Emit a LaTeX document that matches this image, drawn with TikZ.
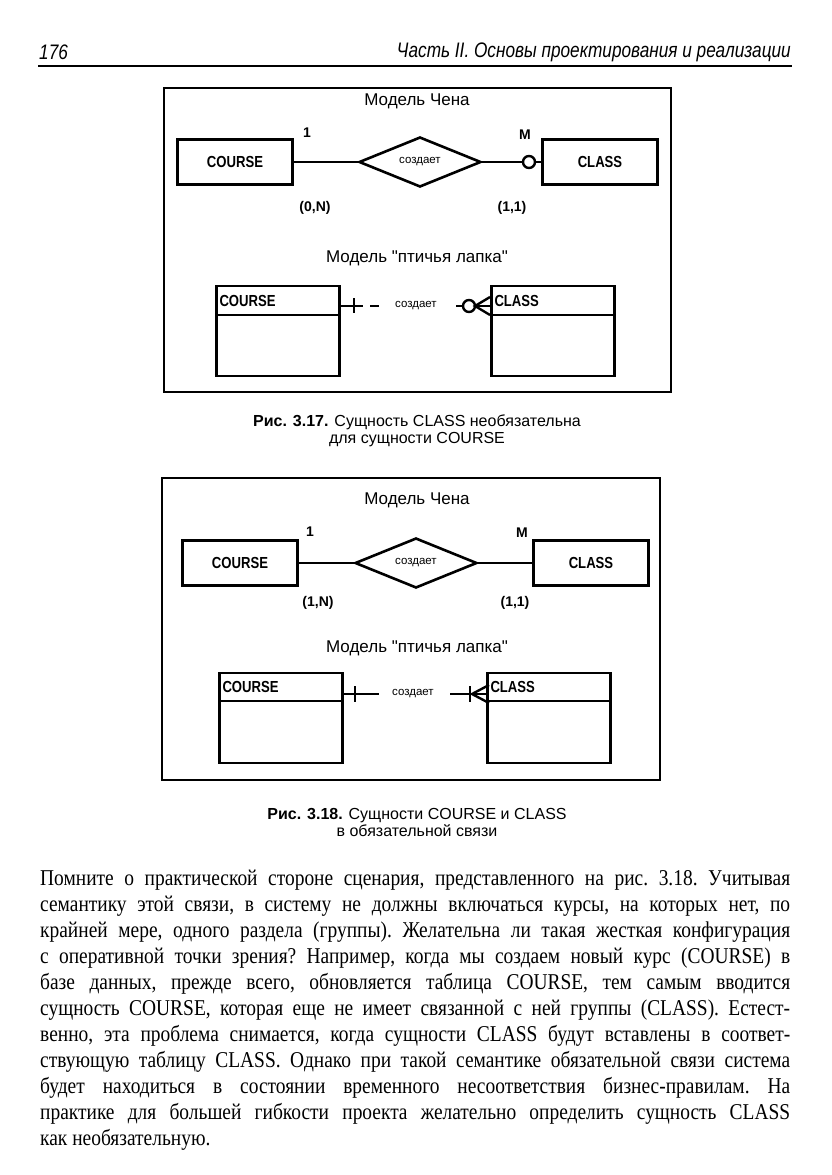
\documentclass[tikz,border=0pt]{standalone}
\usepackage{fontspec}
\setmainfont{Liberation Serif}[FakeStretch=0.86]
\setsansfont{Liberation Sans}
\newfontfamily\narrowsans{Liberation Sans}[FakeStretch=0.82]
\newfontfamily\plainsans{Liberation Sans}[Ligatures=TeXOff]
\usetikzlibrary{shapes.geometric}

\begin{document}
\begin{tikzpicture}[x=1pt,y=-1pt]
        \tikzset{entity node/.style={rectangle,draw=black,line width=2.6pt,minimum width=115pt,minimum height=45pt,inner sep=0pt,font=\narrowsans\bfseries\fontsize{16}{18}\selectfont},
          rel node/.style={diamond,draw=black,line width=2.6pt,minimum width=122pt,minimum height=46pt,inner sep=0pt,font=\sffamily\fontsize{11.5}{13}\selectfont},
          opt node/.style={circle,draw=black,line width=2.4pt,fill=white,minimum size=12pt,inner sep=0pt},
          crow node/.style={rectangle,draw=black,line width=2.4pt,minimum width=123pt,minimum height=90pt,inner sep=0pt},
          crow label/.style={anchor=west,inner sep=0pt,font=\narrowsans\bfseries\fontsize{16}{18}\selectfont},
          card node/.style={inner sep=0pt,font=\sffamily\bfseries\fontsize{14}{16}\selectfont},
          title node/.style={inner sep=0pt,font=\plainsans\fontsize{17}{19}\selectfont},
          verb node/.style={inner sep=0pt,font=\sffamily\fontsize{11.5}{13}\selectfont},
          caption node/.style={align=center,inner sep=0pt,font=\sffamily\fontsize{16}{17}\selectfont},
          conn/.style={line width=2.4pt},
          frame/.style={line width=1.3pt}}
        \useasboundingbox (0,0) rectangle (831,1175);
        % page head
        \node[anchor=west,inner sep=0pt,font=\narrowsans\itshape\fontsize{21}{24}\selectfont] (page num) at (39,52) {176};
        \node[anchor=east,inner sep=0pt,font=\narrowsans\itshape\fontsize{21}{24}\selectfont] (page head) at (791,52) {Часть II. Основы проектирования и реализации};
        \draw[line width=2.4pt] (38,66) -- (792,66);
        % fig 3.17
        \draw[frame] (164,88) rectangle (671,392);
        \node[title node] (chen a) at (417,101) {Модель Чена};
        \node[entity node] (course a) at (235,162) {COURSE};
        \node[rel node] (makes a) at (420,162) {создает};
        \node[entity node] (class a) at (600,162) {CLASS};
        \node[opt node] (opt a) at (529,162) {};
        \draw[conn] (course a) -- (makes a);
        \draw[conn] (makes a) -- (opt a);
        \draw[conn] (opt a) -- (class a);
        \node[card node] (one a) at (307,133) {1};
        \node[card node] (many a) at (525,135) {M};
        \node[card node] (min a) at (315,208) {(0,N)};
        \node[card node] (max a) at (512,208) {(1,1)};
        \node[title node] (bird a) at (417,258) {Модель "птичья лапка"};
        \node[crow node] (course b) at (278,331) {};
        \draw[conn] ([yshift=-30pt]course b.north west) -- ([yshift=-30pt]course b.north east);
        \node[crow label] (course b name) at ([xshift=4pt,yshift=-16pt]course b.north west) {COURSE};
        \node[crow node] (class b) at (553,331) {};
        \draw[conn] ([yshift=-30pt]class b.north west) -- ([yshift=-30pt]class b.north east);
        \node[crow label] (class b name) at ([xshift=4pt,yshift=-16pt]class b.north west) {CLASS};
        \node[verb node] (makes b) at (416,306) {создает};
        \draw[conn] (course b.east |- makes b) -- (363,306);
        \draw[conn] (354,298) -- (354,313);
        \draw[conn] (370,306) -- (379,306);
        \node[opt node] (opt b) at (469,306) {};
        \draw[conn] (456,306) -- (opt b);
        \coordinate (foot b) at (475,306);
        \draw[conn] (490,297) -- (foot b) -- (490,315);
        \draw[conn] (foot b) -- (class b.west |- makes b);
        \node[caption node] (cap a) at (417,431) {\textbf{Рис. 3.17.} Сущность CLASS необязательна\\для сущности COURSE};
        % fig 3.18
        \draw[frame] (162,478) rectangle (660,780);
        \node[title node] (chen c) at (417,500) {Модель Чена};
        \node[entity node] (course c) at (240,563) {COURSE};
        \node[rel node] (makes c) at (416,563) {создает};
        \node[entity node] (class c) at (591,563) {CLASS};
        \draw[conn] (course c) -- (makes c);
        \draw[conn] (makes c) -- (class c);
        \node[card node] (one c) at (310,532) {1};
        \node[card node] (many c) at (522,533) {M};
        \node[card node] (min c) at (318,603) {(1,N)};
        \node[card node] (max c) at (515,603) {(1,1)};
        \node[title node] (bird c) at (417,648) {Модель "птичья лапка"};
        \node[crow node] (course d) at (281,718) {};
        \draw[conn] ([yshift=-29pt]course d.north west) -- ([yshift=-29pt]course d.north east);
        \node[crow label] (course d name) at ([xshift=4pt,yshift=-15pt]course d.north west) {COURSE};
        \node[crow node] (class d) at (549,718) {};
        \draw[conn] ([yshift=-29pt]class d.north west) -- ([yshift=-29pt]class d.north east);
        \node[crow label] (class d name) at ([xshift=4pt,yshift=-15pt]class d.north west) {CLASS};
        \node[verb node] (makes d) at (413,694) {создает};
        \draw[conn] (course d.east |- makes d) -- (379,694);
        \draw[conn] (355,686) -- (355,702);
        \draw[conn] (450,694) -- (class d.west |- makes d);
        \draw[conn] (470,686) -- (470,702);
        \coordinate (foot d) at (472,694);
        \draw[conn] (489,685) -- (foot d) -- (489,703);
        \node[caption node] (cap c) at (417,822) {\textbf{Рис. 3.18.} Сущности COURSE и CLASS\\в обязательной связи};
        % body text
        \node[anchor=north west,inner sep=0pt,text width=750pt,align=justify,font=\fontsize{22.6}{26}\selectfont] (body) at (40,870) {\frenchspacing\hyphenpenalty=10000\exhyphenpenalty=10000\tolerance=10000
          Помните о практической стороне сценария, представленного на рис.~3.18. Учитывая\linebreak
          семантику этой связи, в систему не должны включаться курсы, на которых нет, по\linebreak
          крайней мере, одного раздела (группы). Желательна ли такая жесткая конфигурация\linebreak
          с оперативной точки зрения? Например, когда мы создаем новый курс (COURSE) в\linebreak
          базе данных, прежде всего, обновляется таблица COURSE, тем самым вводится\linebreak
          сущность COURSE, которая еще не имеет связанной с ней группы (CLASS). Естест-\linebreak
          венно, эта проблема снимается, когда сущности CLASS будут вставлены в соответ-\linebreak
          ствующую таблицу CLASS. Однако при такой семантике обязательной связи система\linebreak
          будет находиться в состоянии временного несоответствия бизнес-правилам. На\linebreak
          практике для большей гибкости проекта желательно определить сущность CLASS\linebreak
          как необязательную.};
      \end{tikzpicture}
\end{document}
